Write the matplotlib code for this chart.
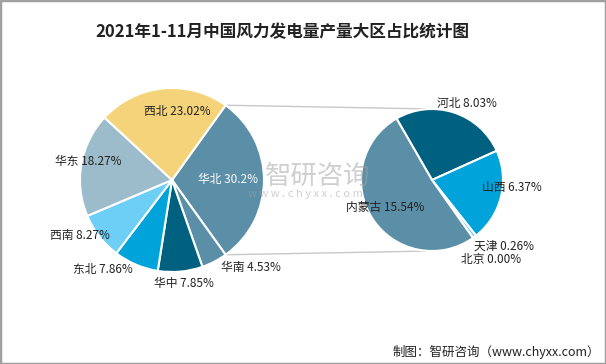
import matplotlib
matplotlib.use("Agg")
import matplotlib.pyplot as plt
from matplotlib.patches import Rectangle
import numpy as np

plt.rcParams['font.family'] = ['Noto Sans CJK SC', 'DejaVu Sans']

# 大区占比
regions = ['华北', '华南', '华中', '东北', '西南', '华东', '西北']
region_share = [30.2, 4.53, 7.85, 7.86, 8.27, 18.27, 23.02]

# 华北内部省份占比
provinces = ['河北', '山西', '天津', '北京', '内蒙古']
province_share = [8.03, 6.37, 0.26, 0.00, 15.54]

title = '2021年1-11月中国风力发电量产量大区占比统计图'
source = '制图：智研咨询（www.chyxx.com）'

# 颜色
left_colors = ['#5b8fa8', '#5b8fa8', '#00607f', '#00a3da', '#6dcff6', '#9dbccb', '#f5d37a']
right_colors = ['#00607f', '#00a3da', '#6dcff6', '#9dbccb', '#5b8fa8']

# 标签位置 (像素)
left_label_pos = [(228, 180), (251, 267), (184, 283), (103, 270), (80, 236), (88, 162), (177, 112)]
right_label_pos = [(467, 103), (512, 187), (504, 246), (491, 260), (385, 208)]

W, H = 606, 364
fig = plt.figure(figsize=(W / 100, H / 100), dpi=100)

# 饼图坐标轴 (y 向上)
ax2 = fig.add_axes([0, 0, 1, 1])
# 文字坐标轴 (像素, y 向下), 放在上层
ax = fig.add_axes([0, 0, 1, 1])
ax.set_zorder(ax2.get_zorder() + 1)
ax.patch.set_visible(False)
ax.set_xlim(0, W)
ax.set_ylim(H, 0)
ax.axis('off')

c1, r1 = (172, 180), 92
c2, r2 = (432, 180), 71

start1 = region_share[0] * 3.6 / 2
w1, _ = ax2.pie(region_share, colors=left_colors, startangle=start1, counterclock=False,
                center=(c1[0], H - c1[1]), radius=r1, frame=True,
                wedgeprops=dict(edgecolor='white', linewidth=1.5))
w2, _ = ax2.pie(province_share, colors=right_colors, startangle=120, counterclock=False,
                center=(c2[0], H - c2[1]), radius=r2, frame=True,
                wedgeprops=dict(edgecolor='white', linewidth=1.5))
ax2.set_xlim(0, W)
ax2.set_ylim(0, H)
ax2.axis('off')

# 连接线
big = w1[0]
for th, yy in [(big.theta2, r2), (big.theta1, -r2)]:
    x0 = c1[0] + r1 * np.cos(np.radians(th))
    y0 = H - c1[1] + r1 * np.sin(np.radians(th))
    ax2.plot([x0, c2[0]], [y0, H - c2[1] + yy], color='#c8c8c8', lw=1, zorder=0)

for name, v, (x, y) in zip(regions, region_share, left_label_pos):
    txt = f'{name} {v:g}%' if name == '华北' else f'{name} {v:.2f}%'
    ax.text(x, y, txt, ha='center', va='center', fontsize=8.5,
            color='white' if name == '华北' else '#222222')
for name, v, (x, y) in zip(provinces, province_share, right_label_pos):
    ax.text(x, y, f'{name} {v:.2f}%', ha='center', va='center', fontsize=8.5, color='#222222')

# 水印
ax.text(318, 176, '智研咨询', ha='center', va='center', fontsize=19, color='#a0a0a0', alpha=0.5)
ax.text(305, 194, 'w w w . c h y x x . c o m', ha='center', va='center', fontsize=8,
        color='#a0a0a0', alpha=0.5)

ax.text(282, 32, title, ha='center', va='center', fontsize=12, fontweight='bold', color='#222222')
ax.text(600, 352, source, ha='right', va='center', fontsize=9, color='#222222')

fig.patches.append(Rectangle((0, 0), 1, 1, transform=fig.transFigure, fill=False,
                             edgecolor='#a0a0a0', linewidth=2.5))

fig.savefig('out.png', dpi=100)
